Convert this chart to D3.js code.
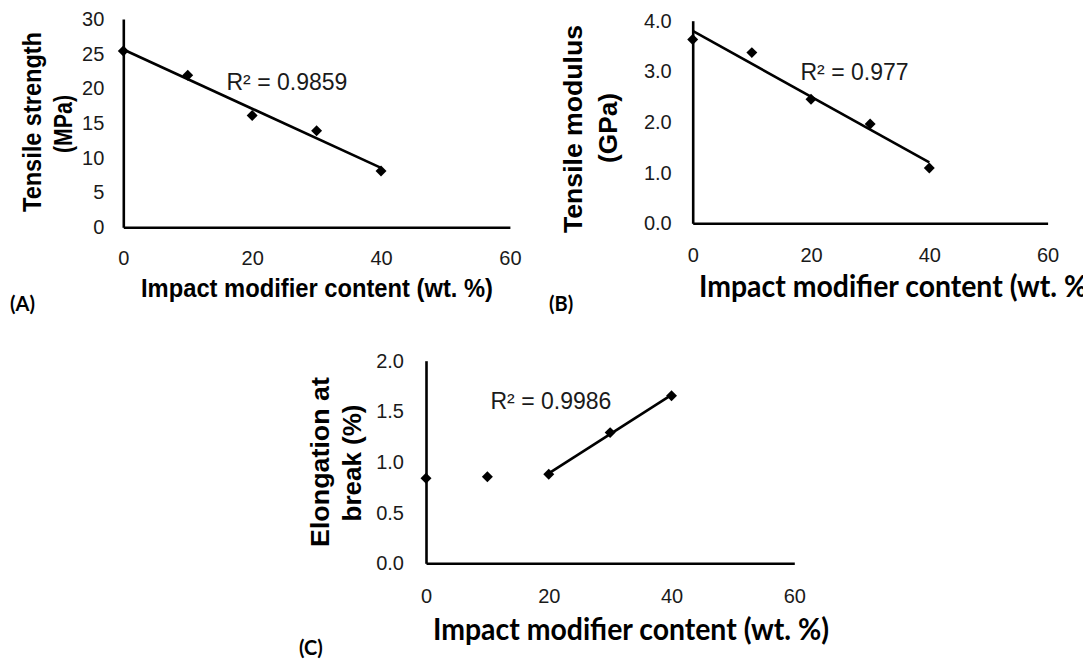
<!DOCTYPE html>
<html><head><meta charset="utf-8">
<script src="https://cdn.jsdelivr.net/npm/d3@7"></script>
<style>html,body{margin:0;padding:0;background:#fff;overflow:hidden}</style>
</head><body>
<svg id="chart" width="1083" height="659"></svg>
<script>
// ---- data ----
const xValues = [0, 10, 20, 30, 40];
const xTicks = [0, 20, 40, 60];
const tensileStrength = [25.4, 21.9, 16.1, 13.9, 8.1];
const tensileModulus = [3.63, 3.37, 2.45, 1.96, 1.09];
const elongation = [0.84, 0.855, 0.88, 1.29, 1.655];
const yTicksA = [0, 5, 10, 15, 20, 25, 30];
const yTicksB = [0, 1, 2, 3, 4];
const yTicksC = [0, 0.5, 1, 1.5, 2];
const r2Labels = ["R² = 0.9859", "R² = 0.977", "R² = 0.9986"];
const panelLabels = ["(A)", "(B)", "(C)"];
const xTitle = "Impact modifier content (wt. %)";
const yTitles = [["Tensile strength", "(MPa)"], ["Tensile modulus", "(GPa)"], ["Elongation at", "break (%)"]];
const trendStart = [0, 0, 2]; // first point index used for each linear trendline

// ---- layout ----
const svg = d3.select("#chart");
svg.append("rect").attr("width", 1083).attr("height", 659).attr("fill", "#fff");

const panels = [
  { y: tensileStrength, yTicks: yTicksA, fmt: d3.format("d"), yMax: 30,
    xr: [123.3, 509.9], yr: [227.3, 19], padY: 19, padX: 24,
    r2: [226.5, 89.5],
    yT: [{x: 32, y: 122, len: 180}, {x: 63, y: 124, len: 58}],
    xT: {x: 141, y: 297, len: 352, font: "'Liberation Sans', Arial, sans-serif", size: 25},
    lab: [10, 311] },
  { y: tensileModulus, yTicks: yTicksB, fmt: d3.format(".1f"), yMax: 4,
    xr: [692.7, 1047.6], yr: [223.3, 20.7], padY: 21, padX: 25,
    r2: [800.5, 80],
    yT: [{x: 573, y: 129, len: 208}, {x: 608, y: 128, len: 70}],
    xT: {x: 699, y: 297, len: 396, font: "Lato, 'Open Sans', sans-serif", size: 30},
    lab: [549, 311] },
  { y: elongation, yTicks: yTicksC, fmt: d3.format(".1f"), yMax: 2,
    xr: [426, 794.3], yr: [563.3, 360.7], padY: 22, padX: 26,
    r2: [490.5, 408.5],
    yT: [{x: 320, y: 462, len: 170}, {x: 352, y: 463, len: 117}],
    xT: {x: 433, y: 640, len: 396, font: "Lato, 'Open Sans', sans-serif", size: 30},
    lab: [299, 655] }
];

function linReg(xs, ys) {
  const mx = d3.mean(xs), my = d3.mean(ys);
  let sxy = 0, sxx = 0;
  xs.forEach((x, i) => { sxy += (x - mx) * (ys[i] - my); sxx += (x - mx) * (x - mx); });
  const b = sxy / sxx; return { b, a: my - b * mx };
}

const tickFont = "'Liberation Sans', Arial, sans-serif";

panels.forEach((p, k) => {
  const x = d3.scaleLinear().domain([0, 60]).range(p.xr);
  const y = d3.scaleLinear().domain([0, p.yMax]).range(p.yr);
  const g = svg.append("g");

  const ya = g.append("g").attr("transform", `translate(${p.xr[0]},0)`)
    .call(d3.axisLeft(y).tickValues(p.yTicks).tickFormat(p.fmt).tickSize(0).tickPadding(p.padY));
  const xa = g.append("g").attr("transform", `translate(0,${p.yr[0]})`)
    .call(d3.axisBottom(x).tickValues(xTicks).tickFormat(d3.format("d")).tickSize(0).tickPadding(p.padX));
  [ya, xa].forEach(a => {
    a.select(".domain").attr("stroke", "#000").attr("stroke-width", 2.6);
    a.selectAll("text").attr("font-family", tickFont).attr("font-size", 20).attr("fill", "#1a1a1a");
  });

  // linear trendline (least squares on the plotted points)
  const idx = d3.range(trendStart[k], xValues.length);
  const xs = idx.map(i => xValues[i]), ys = idx.map(i => p.y[i]);
  const r = linReg(xs, ys);
  const x0 = d3.min(xs), x1 = d3.max(xs);
  g.append("line")
    .attr("x1", x(x0)).attr("y1", y(r.a + r.b * x0))
    .attr("x2", x(x1)).attr("y2", y(r.a + r.b * x1))
    .attr("stroke", "#000").attr("stroke-width", 2.6);

  const sym = d3.symbol().type(d3.symbolSquare).size(60);
  g.selectAll("path.pt").data(xValues).enter().append("path")
    .attr("class", "pt")
    .attr("d", sym)
    .attr("transform", (d, i) => `translate(${x(d)},${y(p.y[i])}) rotate(45)`)
    .attr("fill", "#000");

  g.append("text").attr("x", p.r2[0]).attr("y", p.r2[1])
    .attr("font-family", tickFont).attr("font-size", 23).attr("fill", "#1a1a1a")
    .text(r2Labels[k]);

  yTitles[k].forEach((t, j) => {
    const o = p.yT[j];
    g.append("text")
      .attr("transform", `translate(${o.x},${o.y}) rotate(-90)`)
      .attr("text-anchor", "middle").attr("dy", "0.36em")
      .attr("font-family", tickFont).attr("font-weight", "bold").attr("font-size", 26)
      .attr("textLength", o.len).attr("lengthAdjust", "spacingAndGlyphs")
      .attr("fill", "#000").text(t);
  });

  g.append("text").attr("x", p.xT.x).attr("y", p.xT.y)
    .attr("font-family", p.xT.font).attr("font-weight", "bold").attr("font-size", p.xT.size)
    .attr("textLength", p.xT.len).attr("lengthAdjust", "spacingAndGlyphs")
    .attr("fill", "#000").text(xTitle);

  g.append("text").attr("x", p.lab[0]).attr("y", p.lab[1])
    .attr("font-family", "Lato, 'Open Sans', sans-serif").attr("font-weight", "bold").attr("font-size", 20)
    .attr("fill", "#000").text(panelLabels[k]);
});
</script>
</body></html>
